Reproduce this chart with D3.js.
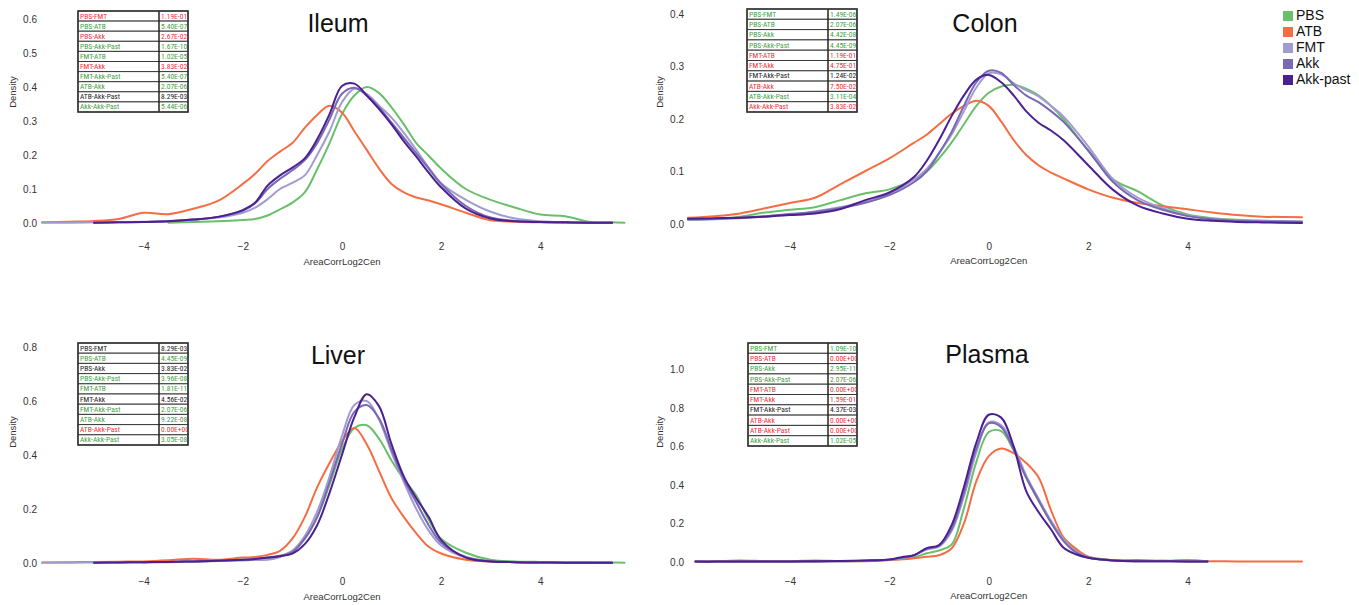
<!DOCTYPE html>
<html><head><meta charset="utf-8">
<script src="https://cdn.jsdelivr.net/npm/d3@7"></script>
<style>body{margin:0;background:#fff}svg{display:block}</style>
</head><body>
<svg id="c" width="1359" height="605"></svg>
<script>
// ---------- data ----------
const groups = ["PBS", "ATB", "FMT", "Akk", "Akk-past"];
const groupColors = ["#6abf6a", "#f46d43", "#a09ccf", "#7a68b5", "#4b2091"];
const pairs = ["PBS-FMT","PBS-ATB","PBS-Akk","PBS-Akk-Past","FMT-ATB","FMT-Akk","FMT-Akk-Past","ATB-Akk","ATB-Akk-Past","Akk-Akk-Past"];

const xTicks = [-4, -2, 0, 2, 4];
const yTicksIleum = [0, 0.1, 0.2, 0.3, 0.4, 0.5, 0.6];
const yTicksColon = [0, 0.1, 0.2, 0.3, 0.4];
const yTicksLiver = [0, 0.2, 0.4, 0.6, 0.8];
const yTicksPlasma = [0, 0.2, 0.4, 0.6, 0.8, 1.0];

const xsLeft = [-6.05,-5.5,-5,-4.5,-4,-3.5,-3,-2.5,-2,-1.75,-1.5,-1.25,-1,-0.75,-0.5,-0.25,0,0.25,0.5,0.75,1,1.25,1.5,1.75,2,2.5,3,3.5,4,4.5,5,5.45,5.7];
const ileumPBS = [null,null,null,null,null,0.001,0.003,0.005,0.009,0.012,0.022,0.04,0.06,0.09,0.158,0.235,0.32,0.375,0.40,0.382,0.34,0.29,0.235,0.198,0.16,0.1,0.068,0.045,0.025,0.02,0.003,0.002,0.001];
const ileumATB = [0.002,0.004,0.006,0.012,0.03,0.026,0.042,0.065,0.115,0.145,0.182,0.21,0.235,0.28,0.318,0.345,0.325,0.27,0.215,0.16,0.115,0.09,0.075,0.066,0.055,0.03,0.008,0.004,0.002,0.001,0.001,0.0005,null];
const ileumFMT = [0.001,0.001,0.002,0.003,0.004,0.006,0.01,0.016,0.03,0.045,0.07,0.1,0.118,0.14,0.2,0.27,0.355,0.395,0.38,0.345,0.31,0.265,0.215,0.163,0.117,0.068,0.033,0.013,0.005,0.002,0.001,0.0005,null];
const ileumAkk = [null,null,0.001,0.002,0.003,0.005,0.01,0.018,0.036,0.058,0.1,0.13,0.155,0.185,0.235,0.305,0.38,0.398,0.375,0.34,0.295,0.25,0.205,0.16,0.115,0.05,0.016,0.006,0.003,0.002,0.001,0.0005,null];
const ileumAkkPast = [null,null,0.001,0.002,0.003,0.005,0.01,0.018,0.038,0.06,0.11,0.14,0.163,0.19,0.246,0.32,0.403,0.41,0.375,0.335,0.29,0.24,0.195,0.148,0.105,0.042,0.013,0.005,0.003,0.002,0.001,0.0005,null];

const liverPBS = [null,null,null,null,0.002,0.003,0.005,0.007,0.01,0.012,0.016,0.025,0.045,0.09,0.17,0.29,0.42,0.5,0.51,0.46,0.38,0.31,0.25,0.16,0.09,0.038,0.012,0.006,0.004,0.003,0.003,0.002,0.001];
const liverATB = [0.002,0.003,0.004,0.005,0.006,0.01,0.016,0.012,0.02,0.022,0.03,0.045,0.09,0.17,0.28,0.37,0.45,0.5,0.44,0.34,0.24,0.17,0.11,0.06,0.035,0.012,0.005,0.003,0.002,0.001,0.001,0.0005,null];
const liverFMT = [0.001,0.001,0.002,0.003,0.003,0.004,0.006,0.008,0.01,0.011,0.012,0.022,0.045,0.1,0.19,0.32,0.47,0.585,0.6,0.53,0.41,0.3,0.2,0.12,0.065,0.02,0.006,0.003,0.002,0.001,0.001,0.0005,null];
const liverAkk = [null,null,0.001,0.002,0.003,0.004,0.006,0.008,0.012,0.015,0.02,0.027,0.04,0.09,0.17,0.3,0.44,0.56,0.585,0.535,0.42,0.31,0.225,0.14,0.075,0.022,0.007,0.003,0.002,0.001,0.001,0.0005,null];
const liverAkkPast = [null,null,0.001,0.002,0.003,0.004,0.006,0.008,0.012,0.015,0.02,0.025,0.035,0.07,0.14,0.26,0.4,0.54,0.625,0.58,0.44,0.32,0.24,0.17,0.085,0.02,0.006,0.003,0.002,0.001,0.001,0.0005,null];

const xsColon = [-6.05,-5.5,-5,-4.5,-4,-3.5,-3,-2.5,-2,-1.5,-1.25,-1,-0.75,-0.5,-0.25,0,0.25,0.5,0.75,1,1.25,1.5,2,2.5,3,3.5,4,4.5,5,5.5,6.3];
const colonPBS = [0.008,0.01,0.014,0.022,0.027,0.032,0.045,0.058,0.066,0.085,0.1,0.125,0.155,0.19,0.225,0.25,0.262,0.265,0.258,0.245,0.225,0.2,0.14,0.085,0.062,0.035,0.018,0.011,0.008,0.006,0.005];
const colonATB = [0.012,0.015,0.02,0.03,0.04,0.05,0.075,0.1,0.125,0.155,0.17,0.19,0.21,0.225,0.235,0.225,0.195,0.16,0.132,0.112,0.098,0.087,0.066,0.05,0.04,0.034,0.028,0.022,0.017,0.014,0.013];
const colonFMT = [0.008,0.009,0.011,0.014,0.018,0.024,0.032,0.042,0.058,0.085,0.105,0.135,0.17,0.215,0.26,0.287,0.285,0.268,0.255,0.243,0.225,0.205,0.148,0.085,0.05,0.03,0.016,0.01,0.007,0.006,0.005];
const colonAkk = [0.009,0.01,0.012,0.015,0.019,0.023,0.03,0.04,0.055,0.08,0.1,0.135,0.175,0.225,0.27,0.292,0.288,0.265,0.245,0.232,0.215,0.195,0.14,0.08,0.045,0.027,0.015,0.009,0.006,0.005,0.004];
const colonAkkPast = [0.01,0.011,0.012,0.014,0.017,0.02,0.028,0.045,0.06,0.09,0.12,0.16,0.205,0.245,0.275,0.284,0.27,0.245,0.215,0.193,0.178,0.16,0.112,0.065,0.035,0.02,0.01,0.006,0.004,0.003,0.002];

const xsPlasma = [-5.9,-5.5,-5,-4.5,-4,-3.5,-3,-2.5,-2,-1.75,-1.5,-1.25,-1,-0.75,-0.5,-0.25,0,0.25,0.5,0.75,1,1.25,1.5,1.75,2,2.5,3,3.5,4,4.4,5,5.5,6.3];
const plasmaPBS = [0.002,0.002,0.002,0.003,0.003,0.003,0.004,0.005,0.01,0.015,0.025,0.045,0.06,0.09,0.28,0.52,0.675,0.68,0.58,0.44,0.32,0.21,0.12,0.06,0.028,0.01,0.006,0.006,0.01,0.004,null,null,null];
const plasmaATB = [0.003,0.004,0.008,0.005,0.004,0.008,0.005,0.004,0.01,0.014,0.02,0.027,0.035,0.07,0.2,0.42,0.55,0.59,0.565,0.515,0.44,0.27,0.13,0.07,0.028,0.01,0.01,0.006,0.004,0.004,0.003,0.003,0.002];
const plasmaFMT = [0.002,0.002,0.002,0.002,0.003,0.003,0.004,0.006,0.012,0.02,0.035,0.065,0.08,0.16,0.34,0.57,0.725,0.71,0.6,0.45,0.33,0.215,0.12,0.055,0.025,0.008,0.004,0.004,0.003,0.002,null,null,null];
const plasmaAkk = [0.002,0.002,0.002,0.002,0.003,0.003,0.004,0.006,0.012,0.022,0.035,0.068,0.085,0.17,0.36,0.59,0.72,0.70,0.585,0.44,0.32,0.205,0.11,0.05,0.022,0.008,0.004,0.004,0.003,0.002,null,null,null];
const plasmaAkkPast = [0.002,0.002,0.003,0.003,0.003,0.004,0.005,0.008,0.013,0.025,0.036,0.072,0.088,0.19,0.39,0.62,0.765,0.75,0.6,0.37,0.26,0.17,0.075,0.04,0.022,0.008,0.004,0.004,0.003,0.002,null,null,null];

// p-value tables (g = green, r = red, k = black)
const ileumP = ["1.19E-01","5.40E-07","2.67E-02","1.67E-10","1.02E-05","3.83E-02","5.40E-07","2.07E-06","8.29E-03","5.44E-06"];
const ileumSig = ["r","g","r","g","g","r","g","g","k","g"];
const colonP = ["1.49E-06","2.07E-06","4.42E-08","4.45E-09","1.19E-01","4.75E-01","1.24E-02","7.50E-02","3.11E-04","3.83E-02"];
const colonSig = ["g","g","g","g","r","r","k","r","g","r"];
const liverP = ["8.29E-03","4.45E-09","3.83E-02","3.96E-08","1.81E-11","4.56E-02","2.07E-06","9.22E-08","0.00E+00","3.05E-08"];
const liverSig = ["k","g","k","g","g","k","g","g","r","g"];
const plasmaP = ["1.09E-10","0.00E+00","2.95E-11","2.07E-06","0.00E+00","1.59E-01","4.37E-03","0.00E+00","0.00E+00","1.02E-05"];
const plasmaSig = ["g","r","g","g","r","r","k","r","r","g"];

// ---------- layout ----------
const sigColor = {g: "#3f9f3f", r: "#f0303a", k: "#1a1a1a"};
const panels = [
  {title: "Ileum", xs: xsLeft, series: [ileumPBS, ileumATB, ileumFMT, ileumAkk, ileumAkkPast], yTicks: yTicksIleum,
   xr: [40, 628], xd: [-6.09, 5.77], yr: [223, 19], yd: [0, 0.6], yLab: 37, dens: [13, 92], xAxY: 243, xTitY: 262, titleX: 338, titleY: 32,
   table: {x: 78, y: 11, w: 110, h: 101, div: 159}, p: ileumP, sig: ileumSig},
  {title: "Colon", xs: xsColon, series: [colonPBS, colonATB, colonFMT, colonAkk, colonAkkPast], yTicks: yTicksColon,
   xr: [688, 1302], xd: [-6.05, 6.3], yr: [224, 14], yd: [0, 0.4], yLab: 684, dens: [660, 92], xAxY: 243, xTitY: 261, titleX: 985, titleY: 32,
   table: {x: 747, y: 9, w: 110, h: 103, div: 828}, p: colonP, sig: colonSig},
  {title: "Liver", xs: xsLeft, series: [liverPBS, liverATB, liverFMT, liverAkk, liverAkkPast], yTicks: yTicksLiver,
   xr: [40, 628], xd: [-6.09, 5.77], yr: [563, 347], yd: [0, 0.8], yLab: 37, dens: [13, 432], xAxY: 578, xTitY: 597, titleX: 338, titleY: 364,
   table: {x: 78, y: 343, w: 110, h: 102, div: 159}, p: liverP, sig: liverSig},
  {title: "Plasma", xs: xsPlasma, series: [plasmaPBS, plasmaATB, plasmaFMT, plasmaAkk, plasmaAkkPast], yTicks: yTicksPlasma,
   xr: [688, 1302], xd: [-6.05, 6.3], yr: [562, 369.5], yd: [0, 1.0], yLab: 684, dens: [660, 432], xAxY: 578, xTitY: 596, titleX: 987, titleY: 363,
   table: {x: 748, y: 343, w: 109, h: 103, div: 828}, p: plasmaP, sig: plasmaSig}
];

const svg = d3.select("#c");
const font = "'Liberation Sans', Arial, sans-serif";
const tableFont = "'Liberation Sans Narrow', 'Roboto Condensed', 'Liberation Sans', sans-serif";
const defs = svg.append("defs");

panels.forEach((P, pi) => {
  const g = svg.append("g");
  const x = d3.scaleLinear().domain(P.xd).range(P.xr);
  const y = d3.scaleLinear().domain(P.yd).range(P.yr);

  // x axis
  const xa = g.append("g").attr("transform", `translate(0,${P.xAxY})`)
    .call(d3.axisBottom(x).tickValues(xTicks).tickSize(0).tickPadding(0));
  xa.select(".domain").remove();
  xa.selectAll("text").attr("font-family", font).attr("font-size", 10).attr("fill", "#333");

  // y axis
  const ya = g.append("g").attr("transform", `translate(${P.yLab},0)`)
    .call(d3.axisLeft(y).tickValues(P.yTicks).tickFormat(d3.format(".1f")).tickSize(0).tickPadding(0));
  ya.select(".domain").remove();
  ya.selectAll("text").attr("font-family", font).attr("font-size", 10).attr("fill", "#333");

  g.append("text").attr("x", x(0)).attr("y", P.xTitY)
    .attr("text-anchor", "middle").attr("dominant-baseline", "middle")
    .attr("font-family", font).attr("font-size", 9.5).attr("fill", "#333").text("AreaCorrLog2Cen");
  g.append("text").attr("transform", `translate(${P.dens[0]},${P.dens[1]}) rotate(-90)`)
    .attr("text-anchor", "middle").attr("dominant-baseline", "middle")
    .attr("font-family", font).attr("font-size", 9.5).attr("fill", "#333").text("Density");

  // curves
  const line = d3.line()
    .defined(d => d[1] !== null)
    .x(d => x(d[0])).y(d => y(d[1]))
    .curve(d3.curveCatmullRom.alpha(0.5));
  P.series.forEach((vals, si) => {
    const pts = P.xs.map((xv, i) => [xv, vals[i]]);
    g.append("path").attr("d", line(pts)).attr("fill", "none")
      .attr("stroke", groupColors[si]).attr("stroke-width", 2)
      .attr("stroke-linejoin", "round").attr("stroke-linecap", "round");
  });

  // title
  g.append("text").attr("x", P.titleX).attr("y", P.titleY).attr("text-anchor", "middle")
    .attr("font-family", font).attr("font-size", 25).attr("fill", "#111").text(P.title);

  // table
  const T = P.table;
  const rh = T.h / pairs.length;
  const clipId = "clip" + pi;
  defs.append("clipPath").attr("id", clipId).append("rect")
    .attr("x", T.div).attr("y", T.y).attr("width", T.x + T.w - T.div - 1).attr("height", T.h);
  const tg = g.append("g");
  tg.append("rect").attr("x", T.x).attr("y", T.y).attr("width", T.w).attr("height", T.h).attr("fill", "#fff");
  pairs.forEach((pr, i) => {
    const ry = T.y + i * rh;
    tg.append("rect").attr("x", T.x).attr("y", ry).attr("width", T.w).attr("height", rh)
      .attr("fill", "#fff").attr("stroke", "#3a3a3a").attr("stroke-width", 1);
    tg.append("text").attr("x", T.x + 2).attr("y", ry + rh / 2 + 0.5).attr("dominant-baseline", "middle")
      .attr("font-family", tableFont)
      .attr("font-size", 7.5).attr("fill", sigColor[P.sig[i]]).text(pr);
    tg.append("text").attr("x", T.div + 2).attr("y", ry + rh / 2 + 0.5).attr("dominant-baseline", "middle")
      .attr("clip-path", `url(#${clipId})`)
      .attr("font-family", tableFont)
      .attr("font-size", 7.5).attr("fill", sigColor[P.sig[i]]).text(P.p[i]);
  });
  tg.append("line").attr("x1", T.div).attr("x2", T.div).attr("y1", T.y).attr("y2", T.y + T.h)
    .attr("stroke", "#222").attr("stroke-width", 1.5);
  tg.append("rect").attr("x", T.x).attr("y", T.y).attr("width", T.w).attr("height", T.h)
    .attr("fill", "none").attr("stroke", "#333").attr("stroke-width", 1.5);
});

// legend
const lg = svg.append("g");
groups.forEach((gname, i) => {
  const cy = 16 + i * 16;
  lg.append("rect").attr("x", 1283).attr("y", cy - 5).attr("width", 10).attr("height", 10).attr("fill", groupColors[i]);
  lg.append("text").attr("x", 1296).attr("y", cy).attr("dominant-baseline", "middle")
    .attr("font-family", font).attr("font-size", 14).attr("fill", "#111").text(gname);
});
</script>
</body></html>
